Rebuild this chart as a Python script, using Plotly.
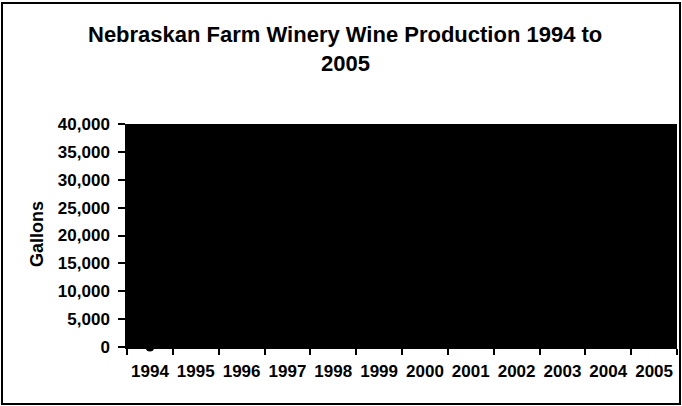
import plotly.graph_objects as go

# Annual wine production of Nebraskan farm wineries, in gallons
years = ["1994", "1995", "1996", "1997", "1998", "1999",
         "2000", "2001", "2002", "2003", "2004", "2005"]
gallons = [0, 2500, 4800, 7200, 9100, 11500, 14200, 17600, 21300, 26400, 31800, 36500]

y_ticks = [0, 5000, 10000, 15000, 20000, 25000, 30000, 35000, 40000]

title_lines = ["Nebraskan Farm Winery Wine Production 1994 to", "2005"]

W, H = 682, 406
L, R, T, B = 127, 5, 124, 59
pw, ph = W - L - R, H - T - B


def px_x(x):
    return (x - L) / pw


def px_y(y):
    return (H - B - y) / ph


FONT = "Liberation Sans, Arial, sans-serif"

fig = go.Figure()
fig.add_trace(go.Scatter(
    x=years, y=gallons,
    mode="lines+markers",
    line=dict(color="black", width=2),
    marker=dict(color="black", size=9, symbol="circle"),
    cliponaxis=False,
    showlegend=False,
))

annotations = [
    dict(
        text=f"<b>{line}</b>",
        xref="paper", yref="paper",
        x=px_x(345), y=px_y(cy),
        xanchor="center", yanchor="middle",
        showarrow=False,
        font=dict(family=FONT, size=22, color="black"),
    )
    for line, cy in zip(title_lines, [35, 63])
]
annotations.append(dict(
    text="<b>Gallons</b>",
    xref="paper", yref="paper",
    x=px_x(37), y=px_y(234),
    xanchor="center", yanchor="middle",
    textangle=-90, showarrow=False,
    font=dict(family=FONT, size=18, color="black"),
))

fig.update_layout(
    width=W, height=H,
    margin=dict(l=L, r=R, t=T, b=B),
    paper_bgcolor="white",
    plot_bgcolor="black",
    font=dict(family=FONT, color="black"),
    xaxis=dict(
        type="category",
        range=[-0.5, len(years) - 0.5],
        tickson="boundaries",
        tickangle=0,
        ticks="outside", ticklen=6, tickwidth=1.5, tickcolor="black",
        showline=True, linecolor="black", linewidth=1.5,
        showgrid=False, zeroline=False,
        tickfont=dict(family=FONT, size=17, color="black", weight="bold"),
        ticklabelstandoff=8,
    ),
    yaxis=dict(
        range=[0, 40000],
        tickvals=y_ticks,
        tickformat=",",
        ticks="outside", ticklen=7, tickwidth=1.5, tickcolor="black",
        showline=True, linecolor="black", linewidth=1.5,
        showgrid=False, zeroline=False,
        tickfont=dict(family=FONT, size=17, color="black", weight="bold"),
        ticklabelstandoff=5,
    ),
    annotations=annotations,
    shapes=[dict(
        type="rect", xref="paper", yref="paper",
        x0=px_x(2), x1=px_x(680), y0=px_y(404), y1=px_y(3),
        line=dict(color="black", width=2),
        fillcolor="rgba(0,0,0,0)", layer="below",
    )],
)

fig.write_html("out.html")
